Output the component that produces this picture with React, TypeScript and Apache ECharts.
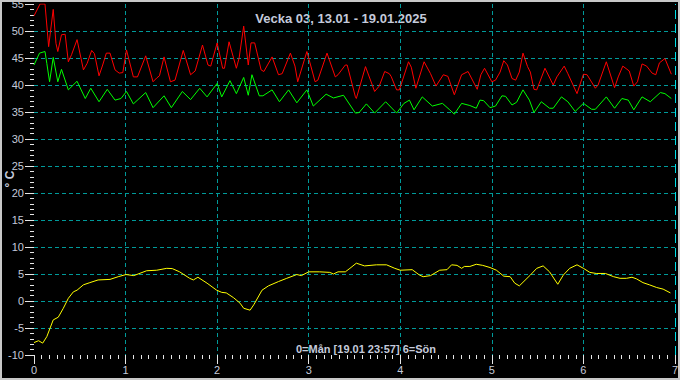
import React, { useEffect, useRef } from "react";
import * as echarts from "echarts";

const titleText = "Vecka 03, 13.01 - 19.01.2025";
const footerText = "0=Mån [19.01 23:57] 6=Sön";
const yName = "° C";

const redX = [0, 0.066, 0.12, 0.16, 0.18, 0.21, 0.24, 0.26, 0.3, 0.34, 0.375, 0.41, 0.47, 0.54, 0.58, 0.63, 0.66, 0.71, 0.75, 0.79, 0.83, 0.885, 0.93, 0.97, 1.01, 1.085, 1.13, 1.22, 1.3, 1.34, 1.37, 1.42, 1.49, 1.54, 1.63, 1.71, 1.76, 1.84, 1.9, 1.93, 2.0, 2.06, 2.08, 2.13, 2.21, 2.24, 2.29, 2.34, 2.37, 2.41, 2.48, 2.51, 2.6, 2.67, 2.71, 2.8, 2.85, 2.88, 2.98, 3.07, 3.1, 3.2, 3.29, 3.32, 3.4, 3.42, 3.51, 3.52, 3.62, 3.72, 3.77, 3.83, 3.88, 3.9, 3.96, 3.99, 4.09, 4.12, 4.17, 4.26, 4.33, 4.39, 4.47, 4.52, 4.59, 4.67, 4.74, 4.84, 4.88, 4.92, 5.0, 5.04, 5.09, 5.13, 5.17, 5.22, 5.26, 5.3, 5.34, 5.39, 5.42, 5.46, 5.49, 5.58, 5.67, 5.71, 5.79, 5.83, 5.93, 6.0, 6.04, 6.13, 6.16, 6.25, 6.34, 6.38, 6.43, 6.5, 6.55, 6.59, 6.64, 6.69, 6.75, 6.79, 6.83, 6.89, 6.96];
const redY = [52.8, 55, 55, 47.1, 49.9, 54.0, 47.7, 46.2, 49.3, 49.4, 44.3, 45.6, 48.4, 42.8, 44.0, 46.4, 45.8, 41.7, 43.7, 45.9, 45.9, 42.8, 42.2, 42.3, 46.5, 41.5, 41.5, 45.4, 40.6, 41.3, 41.7, 45.2, 40.6, 40.9, 46.4, 41.9, 42.6, 47.4, 43.7, 43.5, 47.8, 43.1, 43.1, 48.0, 43.1, 45.0, 50.9, 43.7, 47.8, 47.8, 42.8, 42.5, 45.2, 41.9, 42.1, 45.9, 43.5, 40.6, 46.2, 40.6, 40.9, 45.9, 41.5, 41.9, 43.7, 43.7, 37.8, 37.5, 43.4, 38.8, 39.8, 42.5, 42.1, 41.6, 39.1, 39.1, 44.3, 43.3, 39.4, 44.3, 42.1, 39.8, 41.9, 41.6, 38.2, 41.9, 42.5, 39.2, 41.9, 43.1, 40.6, 40.9, 42.4, 44.5, 43.7, 41.2, 40.9, 42.4, 45.9, 43.4, 42.4, 39.2, 39.1, 43.1, 40.0, 41.5, 43.5, 42.1, 38.4, 42.0, 41.9, 39.4, 40.0, 44.3, 39.5, 41.5, 43.5, 42.6, 39.8, 40.6, 43.9, 43.5, 42.2, 41.9, 44.1, 44.9, 42.0];

const greenX = [0, 0.06, 0.12, 0.14, 0.17, 0.21, 0.26, 0.3, 0.375, 0.47, 0.56, 0.62, 0.71, 0.8, 0.885, 0.95, 1.01, 1.085, 1.22, 1.3, 1.42, 1.5, 1.62, 1.71, 1.81, 1.89, 2.0, 2.05, 2.14, 2.21, 2.29, 2.34, 2.38, 2.46, 2.5, 2.6, 2.68, 2.78, 2.87, 2.98, 3.05, 3.19, 3.27, 3.38, 3.51, 3.55, 3.63, 3.72, 3.84, 3.96, 4.04, 4.1, 4.15, 4.24, 4.35, 4.46, 4.54, 4.59, 4.67, 4.76, 4.83, 4.87, 4.91, 4.98, 5.04, 5.11, 5.15, 5.22, 5.27, 5.34, 5.41, 5.46, 5.54, 5.63, 5.67, 5.76, 5.83, 5.91, 6.0, 6.09, 6.13, 6.25, 6.34, 6.42, 6.49, 6.55, 6.64, 6.73, 6.84, 6.89, 6.96];
const greenY = [43.7, 45.9, 46.2, 44.0, 40.6, 45.1, 40.6, 42.9, 39.1, 40.7, 37.5, 39.4, 36.9, 39.2, 37.2, 37.5, 38.8, 36.5, 38.6, 35.8, 38.0, 35.8, 38.8, 37.3, 39.4, 37.8, 40.3, 37.8, 40.8, 38.4, 41.4, 38.1, 41.9, 38.0, 38.0, 39.1, 36.9, 39.1, 36.7, 39.1, 36.1, 38.3, 37.6, 38.1, 34.8, 34.9, 36.5, 34.8, 36.9, 34.8, 36.6, 37.2, 35.4, 37.8, 36.1, 36.6, 35.4, 34.6, 36.6, 36.2, 35.7, 37.2, 37.1, 35.8, 36.1, 38.0, 37.9, 36.3, 36.8, 39.1, 37.2, 34.9, 36.9, 35.7, 35.7, 37.8, 36.9, 35.1, 36.6, 35.5, 35.5, 37.8, 35.7, 37.5, 37.2, 35.4, 37.8, 36.9, 38.6, 38.4, 37.5];

const yellowX = [0, 0.05, 0.095, 0.14, 0.21, 0.265, 0.32, 0.375, 0.43, 0.47, 0.54, 0.61, 0.7, 0.83, 0.92, 1.005, 1.09, 1.23, 1.34, 1.45, 1.51, 1.59, 1.7, 1.74, 1.79, 1.89, 1.995, 2.05, 2.1, 2.18, 2.25, 2.29, 2.36, 2.4, 2.49, 2.56, 2.67, 2.76, 2.87, 2.92, 3.0, 3.12, 3.23, 3.27, 3.32, 3.4, 3.45, 3.52, 3.61, 3.74, 3.85, 3.94, 4.0, 4.13, 4.21, 4.25, 4.33, 4.43, 4.51, 4.56, 4.62, 4.67, 4.7, 4.76, 4.83, 4.9, 4.98, 5.05, 5.13, 5.2, 5.25, 5.3, 5.42, 5.49, 5.56, 5.63, 5.72, 5.78, 5.85, 5.93, 6.0, 6.07, 6.14, 6.24, 6.33, 6.4, 6.47, 6.53, 6.58, 6.65, 6.72, 6.8, 6.87, 6.95];
const yellowY = [-7.7, -7.35, -7.8, -6.6, -3.5, -3.0, -1.35, 0.5, 1.7, 2.0, 3.0, 3.4, 3.9, 4.0, 4.5, 4.9, 4.7, 5.6, 5.7, 6.05, 6.0, 5.4, 4.2, 3.9, 4.4, 3.3, 2.0, 1.6, 1.5, 0.6, -0.4, -1.35, -1.7, -0.7, 2.0, 2.8, 3.6, 4.2, 4.9, 4.7, 5.4, 5.4, 5.3, 5.0, 5.4, 5.4, 6.05, 7.0, 6.5, 6.7, 6.7, 6.05, 5.7, 5.8, 4.8, 4.5, 4.7, 5.7, 5.8, 6.7, 6.6, 6.05, 6.4, 6.4, 6.8, 6.6, 6.2, 5.7, 4.6, 4.5, 3.3, 2.8, 4.8, 6.05, 6.5, 5.4, 3.1, 4.8, 6.05, 6.7, 6.05, 5.3, 5.1, 5.1, 4.5, 4.2, 4.2, 4.4, 4.1, 3.4, 3.0, 2.5, 2.2, 1.5];

const xMin = 0, xMax = 7, xStep = 1;
const yMin = -10, yMax = 55, yStep = 5;
const nowMarker = 7;

const zip = (xs: number[], ys: number[]) => xs.map((x, i) => [x, ys[i]]);

const labelColor = "#c4cadb";
const gridColor = "#009a9a";
const tickColor = "#e6e6e6";

export default function App() {
  const ref = useRef<HTMLDivElement>(null);
  useEffect(() => {
    document.body.style.margin = "0";
    const chart = echarts.init(ref.current!, null, { renderer: "svg" });
    const lineSeries = (name: string, data: number[][], color: string, extra: any = {}) => ({
      name,
      type: "line",
      data,
      showSymbol: false,
      symbol: "none",
      lineStyle: { color, width: 1 },
      itemStyle: { color },
      ...extra,
    });
    chart.setOption({
      animation: false,
      backgroundColor: "#000000",
      grid: { left: 34, right: 5, top: 4, bottom: 25, containLabel: false, outerBoundsMode: "none" },
      xAxis: {
        type: "value",
        min: xMin,
        max: xMax,
        interval: xStep,
        axisLine: { show: false, onZero: false },
        axisTick: { show: true, length: 9, lineStyle: { color: tickColor, width: 1 } },
        minorTick: { show: true, splitNumber: 12, length: 4, lineStyle: { color: tickColor, width: 1 } },
        axisLabel: { color: labelColor, fontSize: 11, fontFamily: "Liberation Sans, Arial", margin: 9 },
        splitLine: {
          show: true,
          showMinLine: false,
          showMaxLine: false,
          lineStyle: { color: gridColor, type: [4, 3], width: 1 },
        },
      },
      yAxis: {
        type: "value",
        min: yMin,
        max: yMax,
        interval: yStep,
        axisLine: { show: false, onZero: false },
        axisTick: { show: true, length: 9, lineStyle: { color: tickColor, width: 1 } },
        minorTick: { show: true, splitNumber: 5, length: 4, lineStyle: { color: tickColor, width: 1 } },
        axisLabel: { color: labelColor, fontSize: 11, fontFamily: "Liberation Sans, Arial", margin: 10 },
        splitLine: {
          show: true,
          showMinLine: false,
          showMaxLine: false,
          lineStyle: { color: gridColor, type: [4, 3], width: 1 },
        },
      },
      graphic: [
        {
          type: "rect",
          shape: { x: 1, y: 1, width: 678, height: 378 },
          style: { fill: "none", stroke: "#c8c8c8", lineWidth: 2 },
          silent: true,
          z: 100,
        },
        {
          type: "text",
          x: 341,
          y: 18,
          style: {
            text: titleText,
            fill: labelColor,
            font: "bold 13px 'Liberation Sans', Arial, sans-serif",
            align: "center",
            verticalAlign: "middle",
          },
        },
        {
          type: "text",
          x: 366,
          y: 349,
          style: {
            text: footerText,
            fill: labelColor,
            font: "bold 11px 'Liberation Sans', Arial, sans-serif",
            align: "center",
            verticalAlign: "middle",
          },
        },
        {
          type: "text",
          x: 10,
          y: 179,
          rotation: Math.PI / 2,
          style: {
            text: yName,
            fill: labelColor,
            font: "bold 12px 'Liberation Sans', Arial, sans-serif",
            align: "center",
            verticalAlign: "middle",
          },
        },
      ],
      series: [
        lineSeries("Yellow", zip(yellowX, yellowY), "#ffff00", {
          markLine: {
            silent: true,
            symbol: "none",
            label: { show: false },
            lineStyle: { color: "#00dde6", type: [9, 5], width: 1 },
            data: [{ xAxis: nowMarker }],
          },
        }),
        lineSeries("Green", zip(greenX, greenY), "#00ff00"),
        lineSeries("Red", zip(redX, redY), "#ff0000"),
      ],
    });
    return () => chart.dispose();
  }, []);
  return <div ref={ref} style={{ width: 680, height: 380, background: "#000" }} />;
}
